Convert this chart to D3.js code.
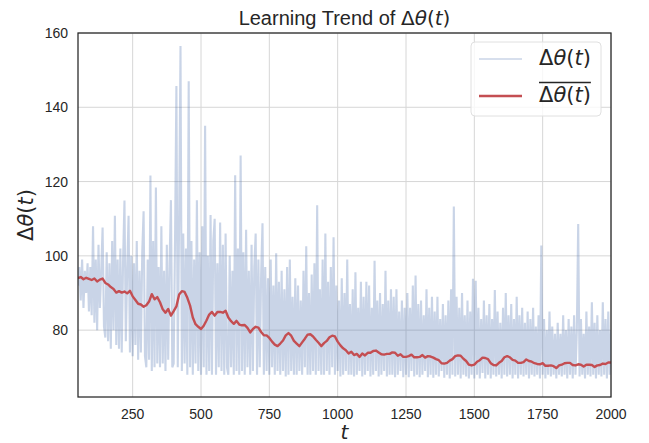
<!DOCTYPE html>
<html>
<head>
<meta charset="utf-8">
<script src="https://cdn.jsdelivr.net/npm/d3@7"></script>
<style>
  body { margin: 0; background: #fff; }
</style>
</head>
<body>
<div id="chart"></div>
<script>
// tick labels
const xTicks = [250, 500, 750, 1000, 1250, 1500, 1750, 2000];
const yTicks = [80, 100, 120, 140, 160];

// raw delta theta, one value every 5 steps starting at t = 50
const rawStart = 50, rawStep = 5;
const rawValues = [
  92, 97, 88, 99, 86, 96, 90, 98, 85, 97,
  84, 108, 82, 99, 80, 103, 86, 96, 107.6, 81,
  78, 101, 77, 98, 75, 104, 80, 110.8, 76, 99,
  75, 102, 74, 99, 114.9, 77, 96, 110.8, 74, 100,
  73, 98, 76, 104, 72, 96, 74, 101, 112, 73,
  70, 99, 72, 121.6, 69, 104, 70, 118.4, 71, 97,
  70, 108, 71, 96, 69, 103, 72, 98, 115, 70,
  71, 104, 145.7, 70, 110, 156.5, 69, 106, 71, 102,
  68, 147, 70, 104, 68, 99, 71, 115, 69, 101,
  68, 108, 70, 135, 68, 100, 69, 111, 68, 104,
  110, 68, 98, 70, 109, 69, 103, 68, 106, 70,
  68, 100, 70, 96, 68, 121.7, 69, 102, 68, 127,
  69, 101, 68, 107, 70, 96, 68, 103, 69, 97,
  106, 68, 99, 70, 95, 108.8, 68, 97, 69, 94,
  68, 99, 70, 92, 68, 100.7, 69, 93, 68, 96,
  69, 91, 67.5, 97, 68, 99, 69, 89, 68, 94,
  68, 92, 69, 88, 68, 96, 70, 102.6, 68, 90,
  68, 95, 69, 98, 68, 113.6, 69, 91, 68, 99,
  68, 106, 69, 93, 68, 97, 70, 105, 68, 92,
  69, 88, 67.5, 94, 68, 90, 69, 99, 68, 87,
  68, 91, 67.5, 95.6, 68, 86, 69, 93, 67.5, 89,
  68, 93, 69, 92, 67.5, 86, 68, 98.7, 69, 88,
  67.5, 90, 68, 87, 69, 96, 67.5, 88, 68, 91,
  68, 89, 67.3, 91, 68, 85, 69, 88, 67.3, 86,
  68, 90, 67.3, 86, 69, 92, 67.5, 94.7, 68, 87,
  67.3, 88, 68, 84, 69, 91, 67.3, 86, 68, 89,
  67.2, 85, 68, 89, 67.5, 83, 69, 87, 67.2, 84,
  68, 88, 67, 91, 68, 113.3, 67.5, 89, 68, 86,
  67, 90, 68, 84, 67.5, 88, 67, 85, 68, 93.8,
  67, 93.3, 68, 86, 67, 83, 68.5, 88, 67, 84,
  68, 87, 67, 83, 68, 90.8, 67.5, 85, 68, 82,
  67, 86, 68, 90, 67.5, 84, 68, 87, 67, 83,
  68, 89, 67, 84, 68, 86, 67.5, 82, 68, 85,
  67, 83, 68, 86, 67.5, 81, 68, 84, 67, 102.8,
  68, 83, 67, 80, 68, 85, 67.5, 81, 68, 79,
  67, 82, 68, 79, 67.5, 84, 68, 80, 67, 83,
  68, 81, 67, 84, 68, 80, 108.6, 67.5, 83, 68,
  79, 67, 85, 68, 81, 67.5, 87.5, 68, 82, 67,
  84, 68, 80, 67.5, 87.5, 68, 83, 67, 85, 68,
  80
];

// running mean, one value every 10 steps starting at t = 50
const meanStart = 50, meanStep = 10;
const meanValues = [
  94, 94.3, 93.7, 94.1, 93.8, 93.5, 93.9, 93.1, 93.6, 93.9,
  92.7, 92.3, 91.6, 91.1, 90.1, 90.5, 90.1, 90.4, 89.9, 90.6,
  89.1, 88.1, 87.1, 86.9, 86.3, 86.7, 87.7, 89.7, 88.3, 88.9,
  87.5, 85.6, 84.7, 85.7, 83.9, 85.1, 86.4, 89.6, 90.5, 90.3,
  88.7, 86.6, 83.4, 81.6, 80.9, 80.3, 81.2, 82.6, 84.2, 84.9,
  83.9, 84.9, 84.9, 84.7, 85.2, 83.4, 82.4, 81.7, 82.5, 81.5,
  81.3, 81.4, 80.6, 79.4, 80.3, 80.9, 80.7, 79.5, 78.6, 78.6,
  77.9, 76.9, 76.1, 75.7, 76.4, 77.2, 78.6, 79.2, 78.5, 77.1,
  76.4, 75.7, 76.7, 77.7, 78.8, 78.9, 78.3, 77.4, 76.6, 75.7,
  76.5, 77.1, 78.1, 78.5, 78.3, 76.9, 75.9, 75.1, 74.6, 73.7,
  74.2, 73.3, 73.6, 72.8, 73.7, 73.2, 73.9, 73.9, 74.4, 74.5,
  74, 73.5, 73.4, 73.6, 73.6, 74, 73.9, 73.1, 73.5, 72.8,
  72.8, 73, 73.4, 72.7, 72.7, 72.8, 73.3, 72.6, 73, 72.9,
  72.6, 72.2, 71.9, 71.1, 71, 71.2, 71.8, 72.2, 73, 73.2,
  73.1, 72.3, 71.7, 70.7, 70.5, 70.7, 71.5, 71.9, 72.6, 72.5,
  72.2, 71.1, 70.6, 70.5, 71.2, 71.7, 72.7, 73, 72.7, 72,
  71.8, 71.2, 71.2, 71.4, 72.1, 71.7, 71.5, 71.1, 70.9, 70.8,
  71.1, 70.4, 70.4, 70.5, 70.3, 69.8, 70.5, 70.7, 71.1, 71.2,
  71.2, 70.6, 70.5, 70.8, 70.7, 70.2, 70.7, 70.7, 70.6, 70.1,
  70.5, 70.6, 71, 70.9, 71.3, 71.3
];

// set the dimensions and margins of the graph
var margin = {top: 33, right: 38, bottom: 46, left: 78},
  width = 649 - margin.left - margin.right,
  height = 443 - margin.top - margin.bottom;

var svg = d3.select("#chart")
  .append("svg")
  .attr("width", 649)
  .attr("height", 443)
  .append("g")
  .attr("transform", "translate(" + margin.left + "," + margin.top + ")");

var x = d3.scaleLinear().domain([50, 2000]).range([0, width]);
var y = d3.scaleLinear().domain([62, 160]).range([height, 0]);

// grid lines
svg.append("g")
  .selectAll("line")
  .data(xTicks)
  .enter().append("line")
    .attr("x1", d => x(d)).attr("x2", d => x(d))
    .attr("y1", 0).attr("y2", height)
    .style("stroke", "#d6d6d6").style("stroke-width", 1);
svg.append("g")
  .selectAll("line")
  .data(yTicks)
  .enter().append("line")
    .attr("x1", 0).attr("x2", width)
    .attr("y1", d => y(d)).attr("y2", d => y(d))
    .style("stroke", "#d6d6d6").style("stroke-width", 1);

svg.append("clipPath").attr("id", "clip")
  .append("rect").attr("width", width).attr("height", height);

var rawLine = d3.line()
  .x((d, i) => x(rawStart + i * rawStep))
  .y(d => y(d));
var meanLine = d3.line()
  .x((d, i) => x(meanStart + i * meanStep))
  .y(d => y(d));

svg.append("path")
  .datum(rawValues)
  .attr("clip-path", "url(#clip)")
  .attr("d", rawLine)
  .style("fill", "none")
  .style("stroke", "#4C72B0")
  .style("stroke-opacity", 0.3)
  .style("stroke-width", 2.1);

svg.append("path")
  .datum(meanValues)
  .attr("clip-path", "url(#clip)")
  .attr("d", meanLine)
  .style("fill", "none")
  .style("stroke", "#C44E52")
  .style("stroke-width", 2.4)
  .style("stroke-linejoin", "round");

// frame
svg.append("rect")
  .attr("width", width).attr("height", height)
  .style("fill", "none")
  .style("stroke", "#262626")
  .style("stroke-width", 1.25);

// tick labels
svg.append("g")
  .selectAll("text")
  .data(xTicks)
  .enter().append("text")
    .attr("x", d => x(d))
    .attr("y", height + 22)
    .attr("text-anchor", "middle")
    .style("font", "14px 'Liberation Sans', Arial, sans-serif")
    .style("fill", "#262626")
    .text(d => d);
svg.append("g")
  .selectAll("text")
  .data(yTicks)
  .enter().append("text")
    .attr("x", -10)
    .attr("y", d => y(d) + 5)
    .attr("text-anchor", "end")
    .style("font", "14px 'Liberation Sans', Arial, sans-serif")
    .style("fill", "#262626")
    .text(d => d);

// writes delta theta(t) the way mathtext does
function addMath(sel) {
  sel.append("tspan").text("Δ");
  sel.append("tspan").style("font-style", "italic").text("θ");
  sel.append("tspan").text("(");
  sel.append("tspan").style("font-style", "italic").text("t");
  sel.append("tspan").text(")");
}

var title = svg.append("text")
  .attr("x", width / 2)
  .attr("y", -8)
  .attr("text-anchor", "middle")
  .style("font", "20px 'Liberation Sans', Arial, sans-serif")
  .style("fill", "#262626");
title.append("tspan").text("Learning Trend of ");
var titleMath = title.append("tspan").style("font-family", "'DejaVu Sans'");
addMath(titleMath);

// x label
svg.append("text")
  .attr("x", width / 2)
  .attr("y", height + 42)
  .attr("text-anchor", "middle")
  .style("font", "italic 20px 'DejaVu Sans'")
  .style("fill", "#262626")
  .text("t");

var yLab = svg.append("text")
  .attr("transform", "translate(-45," + (height / 2) + ") rotate(-90)")
  .attr("text-anchor", "middle")
  .style("font", "21px 'DejaVu Sans'")
  .style("fill", "#262626");
addMath(yLab);

// legend
var legend = svg.append("g")
  .attr("transform", "translate(" + (width - 140) + ",9)");
legend.append("rect")
  .attr("width", 130).attr("height", 74)
  .attr("rx", 4)
  .style("fill", "#fff").style("fill-opacity", 0.8)
  .style("stroke", "#e0e0e0").style("stroke-width", 1);
legend.append("line")
  .attr("x1", 8).attr("x2", 51).attr("y1", 17).attr("y2", 17)
  .style("stroke", "#4C72B0").style("stroke-opacity", 0.3).style("stroke-width", 1.5);
legend.append("line")
  .attr("x1", 8).attr("x2", 51).attr("y1", 54).attr("y2", 54)
  .style("stroke", "#C44E52").style("stroke-width", 2.4);
var l1 = legend.append("text")
  .attr("x", 68).attr("y", 23)
  .style("font", "21px 'DejaVu Sans'").style("fill", "#262626");
addMath(l1);
var l2 = legend.append("text")
  .attr("x", 68).attr("y", 60)
  .style("font", "21px 'DejaVu Sans'").style("fill", "#262626");
addMath(l2);
var l2w = l2.node().getComputedTextLength();
legend.append("line")
  .attr("x1", 68).attr("x2", 68 + l2w)
  .attr("y1", 40.5).attr("y2", 40.5)
  .style("stroke", "#262626").style("stroke-width", 1.4);
</script>
</body>
</html>
